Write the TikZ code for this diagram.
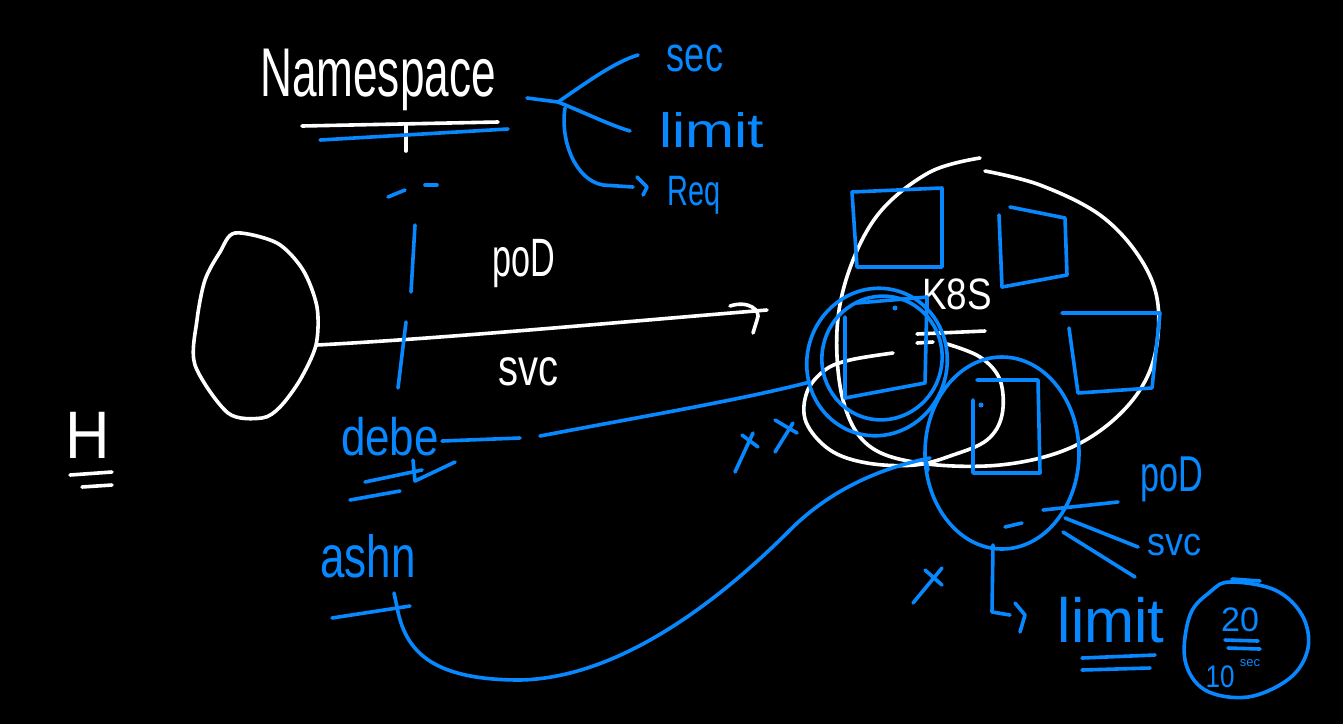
\documentclass[tikz,border=0pt]{standalone}
\usepackage{fontspec}
\setmainfont{Liberation Sans}
\definecolor{ink}{RGB}{8,136,255}
\newcommand{\hwt}[3]{\scalebox{#1}[#2]{#3}}
\begin{document}
\begin{tikzpicture}[x=1pt,y=-1pt,
  wl/.style={white,line width=3.6pt,line cap=round,line join=round},
  bl/.style={ink,line width=3.6pt,line cap=round,line join=round},
  wt/.style={text=white,inner sep=0pt,anchor=center},
  bt/.style={text=ink,inner sep=0pt,anchor=center}]
\fill[black] (0,0) rectangle (1343,724);
\useasboundingbox (0,0) rectangle (1343,724);

% ---------- white ----------
\node[wt,font=\fontsize{46}{46}\selectfont] (ns) at (378,80) {\hwt{0.96}{1.5}{Namespace}};
\draw[wl] (302,126) -- (498,122);
\draw[wl] (406,124) -- (406,151);

\draw[wl] plot[smooth cycle,tension=0.5] coordinates {(235,233) (277,243) (303,270) (317,307) (316,345) (300,380) (280,407) (262,418) (228,413) (195,365) (197,320) (205,280) (220,252)};
\coordinate (le) at (317,345);
\coordinate (ah) at (767,310);
\draw[wl] (le) .. controls (450,338) and (620,322) .. (ah);
\draw[wl] (730,306) .. controls (748,300) and (762,310) .. (757,320) -- (753,333);

\node[wt,font=\fontsize{36}{36}\selectfont] (pod1) at (524,264) {\hwt{0.95}{1.5}{poD}};
\node[wt,font=\fontsize{40}{40}\selectfont] (svc1) at (528,372) {\hwt{1}{1.3}{svc}};

\draw[wl] plot[smooth,tension=0.6] coordinates {(985,171) (1040,185) (1100,215) (1140,258) (1158,305) (1152,365) (1122,412) (1070,448) (1000,465) (920,463) (868,445) (843,400) (837,330) (850,268) (880,212) (930,172) (980,158)};
\draw[wl] plot[smooth,tension=0.6] coordinates {(893,353) (850,360) (825,370) (807,392) (806,422) (830,450) (867,463) (915,465) (953,455) (987,440) (1002,415) (1000,380) (980,357) (947,344)};
\node[wt,font=\fontsize{40}{40}\selectfont] (k8s) at (957,294) {\hwt{0.92}{1.1}{K8S}};
\draw[wl] (917,334) -- (985,331);
\draw[wl] (917,343) -- (933,342);

\node[wt,font=\fontsize{56}{56}\selectfont] (h) at (88,435) {\hwt{1.1}{1.2}{H}};
\draw[wl] (70,475) -- (112,472);
\draw[wl] (82,487) -- (112,485);

% ---------- blue ----------
\draw[bl] (320,140) -- (508,129);
\coordinate (br) at (558,102);
\draw[bl] (527,98) -- (br);
\draw[bl] (br) .. controls (590,80) and (615,62) .. (638,55);
\draw[bl] (br) .. controls (590,115) and (610,125) .. (630,131);
\draw[bl] (565,108) .. controls (560,140) and (575,180) .. (603,185) -- (633,187);
\draw[bl] (637,177) -- (647,187) -- (643,195);
\node[bt,font=\fontsize{38}{38}\selectfont] (sec) at (695,58) {\hwt{0.95}{1.3}{sec}};
\node[bt,font=\fontsize{42}{42}\selectfont] (lim1) at (712,130) {\hwt{1.4}{1.15}{limit}};
\node[bt,font=\fontsize{34}{34}\selectfont] (req) at (694,195) {\hwt{0.85}{1.25}{Req}};

% dashed separator
\draw[bl] (388,197) -- (405,190);
\draw[bl] (425,185) -- (437,185);
\draw[bl] (415,225) -- (411,292);
\draw[bl] (406,322) -- (398,388);

% blue squares in cluster
\draw[bl] (852,192) -- (942,188) -- (942,267) -- (857,267) -- cycle;
\draw[bl] (999,215) -- (1002,287) -- (1067,275) -- (1065,218) -- (1010,207);
\draw[bl] (1062,313) -- (1160,313) -- (1152,388) -- (1078,393) -- (1069,328);
\draw[bl] (857,303) -- (927,297) -- (925,383) -- (845,398) -- (845,317);
\fill[ink] (895,308) circle (2.5pt);

% double circle
\draw[bl,rotate around={-15:(877,362)}] (877,362) ellipse (70pt and 74pt);
\draw[bl,rotate around={-15:(882,358)}] (882,358) ellipse (60pt and 62pt);

% circle 2 with square
\draw[bl] (1002,453) ellipse (77pt and 96pt);
\draw[bl] (973,400) -- (973,473) -- (1040,473) -- (1038,380) -- (977,380);
\fill[ink] (981,405) circle (2.5pt);
\draw[bl] (1005,527) -- (1022,523);

% debe / ashn
\node[bt,font=\fontsize{44}{44}\selectfont] (debe) at (390,437) {\hwt{1}{1.2}{debe}};
\draw[bl] (365,482) -- (422,470);
\draw[bl] (413,460) -- (415,481) -- (455,462);
\draw[bl] (400,491) -- (350,500);
\draw[bl] (442,441) -- (520,438);
\draw[bl] (540,436) .. controls (650,415) and (740,400) .. (810,382);

\node[bt,font=\fontsize{44}{44}\selectfont] (ashn) at (368,556) {\hwt{1}{1.35}{ashn}};
\draw[bl] (332,618) -- (410,606);
\draw[bl] (394,593) -- (397,607);
\draw[bl] (397,607) .. controls (405,650) and (430,680) .. (520,680)
   .. controls (620,678) and (720,600) .. (790,530)
   .. controls (830,490) and (880,468) .. (930,458);
\draw[bl] (925,455) -- (928,470);

% x marks
\draw[bl] (742,435) -- (758,447);
\draw[bl] (753,433) -- (735,472);
\draw[bl] (775,420) -- (797,433);
\draw[bl] (793,423) -- (775,452);
\draw[bl] (925,570) -- (942,585);
\draw[bl] (942,568) -- (913,603);

% branches to pod / svc
\draw[bl] (1043,510) -- (1118,502);
\draw[bl] (1065,518) -- (1138,547);
\draw[bl] (1063,532) -- (1135,577);
\node[bt,font=\fontsize{36}{36}\selectfont] (pod2) at (1172,479) {\hwt{0.95}{1.4}{poD}};
\node[bt,font=\fontsize{36}{36}\selectfont] (svc2) at (1174,545) {\hwt{1}{1.1}{svc}};

% limit bracket
\draw[bl] (993,545) -- (992,612) -- (1010,615);
\draw[bl] (1015,603) -- (1025,615) -- (1020,632);
\node[bt,font=\fontsize{48}{48}\selectfont] (lim2) at (1111,620) {\hwt{1.25}{1.3}{limit}};
\draw[bl] (1082,658) -- (1155,655);
\draw[bl] (1082,670) -- (1150,668);

% circle with 20 / 10 sec
\draw[bl] plot[smooth cycle,tension=0.6] coordinates {(1230,582) (1275,590) (1302,615) (1308,648) (1290,678) (1248,697) (1205,690) (1185,660) (1190,615) (1210,592)};
\draw[bl] (1232,579) -- (1260,581);
\node[bt,font=\fontsize{34}{34}\selectfont] (twenty) at (1240,620) {20};
\draw[bl] (1225,640) -- (1258,641);
\draw[bl] (1228,648) -- (1260,649);
\node[bt,font=\fontsize{26}{26}\selectfont] (ten) at (1220,677) {\hwt{1}{1.2}{10}};
\node[bt,font=\fontsize{13}{13}\selectfont] (s) at (1250,663) {sec};
\end{tikzpicture}
\end{document}
